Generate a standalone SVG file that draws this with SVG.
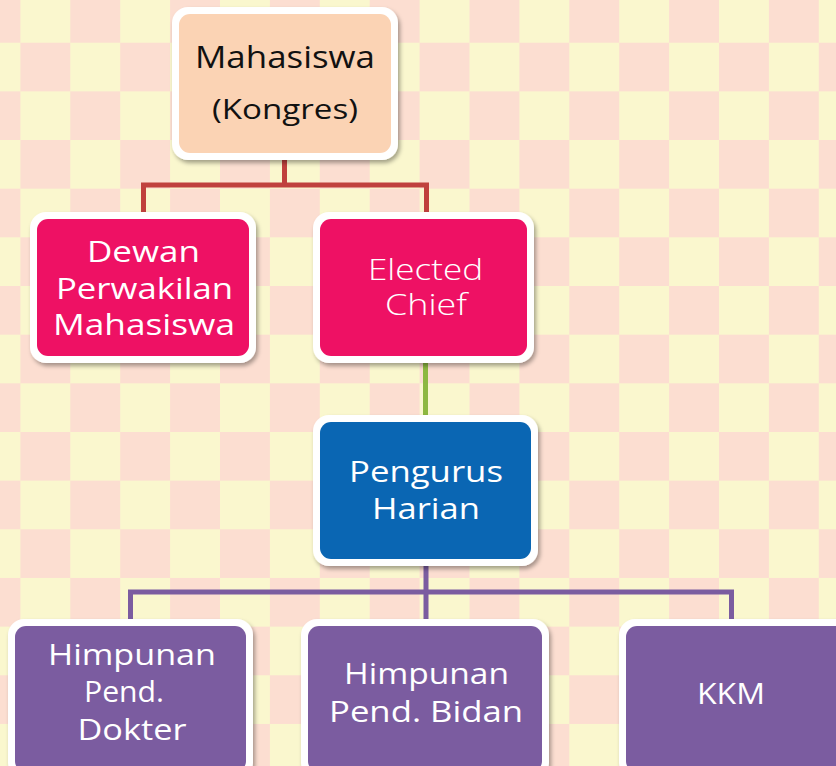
<svg xmlns="http://www.w3.org/2000/svg" width="836" height="766" viewBox="0 0 836 766">
<defs>
<pattern id="checker" patternUnits="userSpaceOnUse" x="20.4" y="-5.96" width="99.8" height="97.32">
<rect width="99.8" height="97.32" fill="#FCDED1"/>
<rect x="0" y="0" width="49.9" height="48.66" fill="#FAF7CE"/>
<rect x="49.9" y="48.66" width="49.9" height="48.66" fill="#FAF7CE"/>
</pattern>
<filter id="sh" x="-10%" y="-10%" width="125%" height="130%">
<feDropShadow dx="2" dy="3" stdDeviation="2.2" flood-color="#000" flood-opacity="0.35"/>
</filter>
</defs>
<style>
.frame{fill:#FFFFFF;filter:url(#sh)}
.t{font-family:"Open Sans","Noto Sans","Liberation Sans",sans-serif;text-anchor:middle;fill:#FFFFFF}
.dark{fill:#111111}
.line{fill:none;stroke-width:5;stroke-linecap:butt;stroke-linejoin:miter}
</style>
<rect width="836" height="766" fill="url(#checker)"/>

<g id="connectors">
<path class="line" stroke="#C0413D" d="M284.5 158 V185 M143.5 214 V185 H426.5 V214"/>
<path class="line" stroke="#8DB840" d="M425.5 361 V418"/>
<path class="line" stroke="#7B5CA0" d="M426 564 V621 M130.5 621 V592 H731.5 V621"/>
</g>

<g id="node-mahasiswa">
<rect class="frame" x="172" y="7" width="226" height="153" rx="16"/>
<rect x="179" y="14" width="212" height="139" rx="11" fill="#FBD3B4"/>
<text class="t dark" x="285" y="68" font-size="31" textLength="180" lengthAdjust="spacingAndGlyphs">Mahasiswa</text>
<text class="t dark" x="285" y="119" font-size="28" textLength="146" lengthAdjust="spacingAndGlyphs">(Kongres)</text>
</g>

<g id="node-dpm">
<rect class="frame" x="30" y="212" width="226" height="151" rx="16"/>
<rect x="37" y="219" width="212" height="137" rx="11" fill="#EE1164"/>
<text class="t" x="143.5" y="262" font-size="30" textLength="113" lengthAdjust="spacingAndGlyphs">Dewan</text>
<text class="t" x="144.5" y="298.5" font-size="30" textLength="177" lengthAdjust="spacingAndGlyphs">Perwakilan</text>
<text class="t" x="144" y="335" font-size="30" textLength="182" lengthAdjust="spacingAndGlyphs">Mahasiswa</text>
</g>

<g id="node-elected">
<rect class="frame" x="313" y="212" width="221" height="151" rx="16"/>
<rect x="320" y="219" width="207" height="137" rx="11" fill="#EE1164"/>
<text class="t" x="425.5" y="280" font-size="30" font-weight="300" textLength="115" lengthAdjust="spacingAndGlyphs">Elected</text>
<text class="t" x="426" y="315" font-size="30" font-weight="300" textLength="82" lengthAdjust="spacingAndGlyphs">Chief</text>
</g>

<g id="node-pengurus">
<rect class="frame" x="313" y="415" width="225" height="151" rx="16"/>
<rect x="320" y="422" width="211" height="137" rx="11" fill="#0A66B3"/>
<text class="t" x="426" y="482" font-size="30" textLength="154" lengthAdjust="spacingAndGlyphs">Pengurus</text>
<text class="t" x="426" y="518.5" font-size="30" textLength="108" lengthAdjust="spacingAndGlyphs">Harian</text>
</g>

<g id="node-hpd">
<rect class="frame" x="8" y="619" width="245" height="160" rx="16"/>
<rect x="15" y="626" width="231" height="146" rx="11" fill="#7B5CA0"/>
<text class="t" x="132" y="665" font-size="30" textLength="168" lengthAdjust="spacingAndGlyphs">Himpunan</text>
<text class="t" x="124" y="702" font-size="30" textLength="80" lengthAdjust="spacingAndGlyphs">Pend.</text>
<text class="t" x="132" y="739.5" font-size="30" textLength="109" lengthAdjust="spacingAndGlyphs">Dokter</text>
</g>

<g id="node-hpb">
<rect class="frame" x="301" y="619" width="248" height="160" rx="16"/>
<rect x="308" y="626" width="234" height="146" rx="11" fill="#7B5CA0"/>
<text class="t" x="426.5" y="683.5" font-size="30" textLength="165" lengthAdjust="spacingAndGlyphs">Himpunan</text>
<text class="t" x="426" y="722" font-size="30" textLength="194" lengthAdjust="spacingAndGlyphs">Pend. Bidan</text>
</g>

<g id="node-kkm">
<rect class="frame" x="619" y="619" width="240" height="160" rx="16"/>
<rect x="626" y="626" width="226" height="146" rx="11" fill="#7B5CA0"/>
<text class="t" x="731" y="703.5" font-size="30" textLength="68" lengthAdjust="spacingAndGlyphs">KKM</text>
</g>
</svg>
